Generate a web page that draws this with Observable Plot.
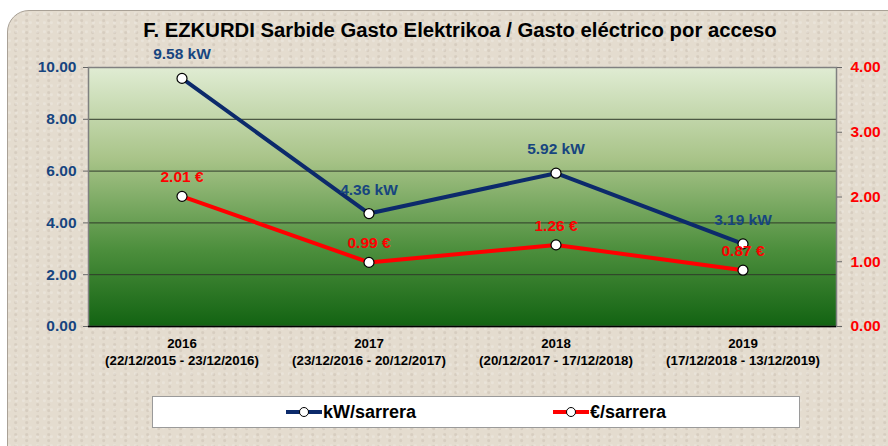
<!DOCTYPE html>
<html>
<head>
<meta charset="utf-8">
<script src="https://cdn.jsdelivr.net/npm/d3@7"></script>
<script src="https://cdn.jsdelivr.net/npm/@observablehq/plot@0.6"></script>
<style>
  html, body { margin: 0; padding: 0; background: #ffffff; }
  #page { position: relative; width: 888px; height: 446px; overflow: hidden; font-family: Arial, "Liberation Sans", sans-serif; }
  #panel { position: absolute; left: 7px; top: 10px; width: 900px; height: 460px; border-radius: 22px;
    background-color: #e4dccf;
    background-image:
      radial-gradient(circle at 20% 30%, rgba(255,255,255,0.2) 0 1px, transparent 2px),
      radial-gradient(circle at 70% 60%, rgba(120,100,80,0.12) 0 1px, transparent 2px);
    background-size: 7px 9px, 11px 6px;
    border: 1px solid #a9a196; }
  #title { position: absolute; left: 0; width: 920px; top: 19px; text-align: center; font-weight: bold; font-size: 20.3px; color: #000; }
  #chart { position: absolute; left: 0; top: 40px; }
  #legend { position: absolute; left: 152px; top: 396px; width: 646px; height: 30px; background: #fff; border: 1px solid #9a9a9a; }
  .item { position: absolute; top: 0; height: 30px; display: flex; align-items: center; font-weight: bold; font-size: 18px; color: #000; }
  .sw { position: relative; width: 36px; height: 12px; margin-right: 1px; }
  .sw .ln { position: absolute; left: 0; right: 0; top: 4px; height: 4px; }
  .sw .dt { position: absolute; left: 13px; top: 1px; width: 8px; height: 8px; border-radius: 50%; background: #fff; border: 1px solid #000; }
</style>
</head>
<body>
<div id="page">
  <div id="panel"></div>
  <div id="title">F. EZKURDI Sarbide Gasto Elektrikoa / Gasto eléctrico por acceso</div>
  <div id="chart"></div>
  <div id="legend">
    <div class="item" style="left:133px"><div class="sw"><div class="ln" style="background:#0c2a6b"></div><div class="dt"></div></div>kW/sarrera</div>
    <div class="item" style="left:400px"><div class="sw"><div class="ln" style="background:#ff0000"></div><div class="dt"></div></div>€/sarrera</div>
  </div>
</div>
<script>
const categories = [
  "2016\n(22/12/2015 - 23/12/2016)",
  "2017\n(23/12/2016 - 20/12/2017)",
  "2018\n(20/12/2017 - 17/12/2018)",
  "2019\n(17/12/2018 - 13/12/2019)"
];
const kwValues = [9.58, 4.36, 5.92, 3.19];
const euroValues = [2.01, 0.99, 1.26, 0.87];
const leftTicks = [0, 2, 4, 6, 8, 10];
const rightTicks = [0, 1, 2, 3, 4];

const ratio = 10 / 4; // right axis max 4 maps to left axis max 10

const kwData = categories.map((c, i) => ({cat: c, v: kwValues[i], label: kwValues[i].toFixed(2) + " kW"}));
const euroData = categories.map((c, i) => ({cat: c, v: euroValues[i] * ratio, label: euroValues[i].toFixed(2) + " €"}));

const navy = "#0c2a6b";
const red = "#ff0000";
const blueText = "#17457f";

const defs = () => {
  const d = d3.create("svg:defs");
  const g = d.append("linearGradient").attr("id", "bggrad").attr("x1", 0).attr("y1", 0).attr("x2", 0).attr("y2", 1);
  g.append("stop").attr("offset", "0%").attr("stop-color", "#e0ecd3");
  g.append("stop").attr("offset", "35%").attr("stop-color", "#a9c489");
  g.append("stop").attr("offset", "70%").attr("stop-color", "#4d8f3d");
  g.append("stop").attr("offset", "100%").attr("stop-color", "#126312");
  return d.node();
};

const chart = Plot.plot({
  width: 888,
  height: 330,
  marginLeft: 88,
  marginRight: 52,
  marginTop: 27,
  marginBottom: 44,
  style: {fontFamily: "Arial, 'Liberation Sans', sans-serif", background: "transparent", overflow: "visible"},
  x: {type: "band", domain: categories, padding: 0},
  y: {domain: [0, 10]},
  marks: [
    defs,
    Plot.frame({fill: "url(#bggrad)", stroke: null}),
    Plot.ruleY([2, 4, 6, 8], {stroke: "#2f3a2a", strokeWidth: 1}),
    Plot.frame({stroke: "#808080", strokeWidth: 1.5}),
    Plot.ruleY([0], {stroke: "#000", strokeWidth: 1.5}),
    Plot.axisY({anchor: "left", ticks: leftTicks, tickFormat: d => d.toFixed(2), tickSize: 5, tickPadding: 7,
      fill: blueText, stroke: "#666", fontSize: 15.5, fontWeight: "bold", label: null}),
    Plot.axisY({anchor: "right", ticks: rightTicks.map(t => t * ratio), tickFormat: d => (d / ratio).toFixed(2), tickSize: 5, tickPadding: 9,
      fill: red, stroke: "#666", fontSize: 15.5, fontWeight: "bold", label: null}),
    Plot.axisX({tickSize: 0, tickPadding: 9, fontSize: 13.3, fontWeight: "bold", fill: "#000", lineHeight: 1.3, label: null}),
    Plot.lineY(euroData, {x: "cat", y: "v", stroke: red, strokeWidth: 4}),
    Plot.lineY(kwData, {x: "cat", y: "v", stroke: navy, strokeWidth: 4}),
    Plot.dot(euroData, {x: "cat", y: "v", r: 5, fill: "#fff", stroke: "#000", strokeWidth: 1.2}),
    Plot.dot(kwData, {x: "cat", y: "v", r: 5, fill: "#fff", stroke: "#000", strokeWidth: 1.2}),
    Plot.text(kwData, {x: "cat", y: "v", text: "label", dy: -24, fill: blueText, fontSize: 15.5, fontWeight: "bold"}),
    Plot.text(euroData, {x: "cat", y: "v", text: "label", dy: -19, fill: red, fontSize: 15.5, fontWeight: "bold"})
  ]
});

document.getElementById("chart").appendChild(chart);
</script>
</body>
</html>
